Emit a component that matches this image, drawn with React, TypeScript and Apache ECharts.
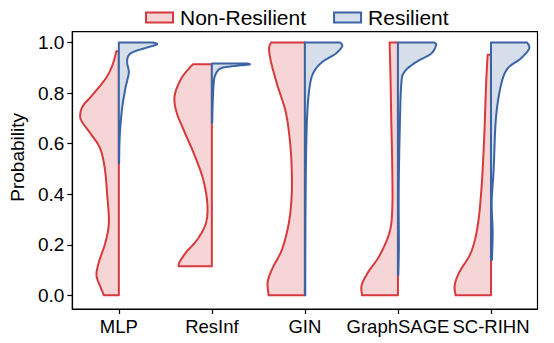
import React, { useEffect, useRef } from "react";
import * as echarts from "echarts";

const categories = ["MLP", "ResInf", "GIN", "GraphSAGE", "SC-RIHN"];
const seriesNames = ["Non-Resilient", "Resilient"];
const yTickValues = [0, 0.2, 0.4, 0.6, 0.8, 1.0];

// [probability, half-width in category units], ascending probability
const mlpNon = [[0, 0.16], [0.033, 0.197], [0.079, 0.24], [0.132, 0.214], [0.211, 0.143], [0.29, 0.107], [0.396, 0.125], [0.5, 0.15], [0.58, 0.2], [0.633, 0.29], [0.686, 0.395], [0.715, 0.415], [0.75, 0.385], [0.79, 0.29], [0.857, 0.143], [0.91, 0.07], [0.966, 0.026]];
const mlpRes = [[0.523, 0.003], [0.633, 0.01], [0.739, 0.035], [0.818, 0.07], [0.85, 0.09], [0.884, 0.107], [0.923, 0.089], [0.95, 0.107], [0.965, 0.17], [0.98, 0.3], [0.993, 0.41], [1.0, 0.37]];
const resinfNon = [[0.115, 0.357], [0.132, 0.347], [0.171, 0.275], [0.224, 0.15], [0.29, 0.061], [0.369, 0.05], [0.462, 0.096], [0.554, 0.186], [0.646, 0.293], [0.725, 0.38], [0.79, 0.4], [0.857, 0.33], [0.9, 0.24], [0.914, 0.203]];
const resinfRes = [[0.683, 0.004], [0.75, 0.008], [0.831, 0.018], [0.87, 0.035], [0.897, 0.09], [0.906, 0.21], [0.913, 0.4], [0.917, 0.38]];
const ginNon = [[0, 0.39], [0.053, 0.4], [0.106, 0.35], [0.185, 0.243], [0.29, 0.171], [0.396, 0.142], [0.5, 0.142], [0.607, 0.16], [0.725, 0.206], [0.831, 0.296], [0.923, 0.364], [0.976, 0.385], [1.0, 0.364]];
const ginRes = [[0, 0.004], [0.2, 0.005], [0.4, 0.008], [0.58, 0.014], [0.725, 0.026], [0.831, 0.053], [0.884, 0.096], [0.923, 0.186], [0.956, 0.33], [0.985, 0.4], [1.0, 0.38]];
const sageNon = [[0, 0.385], [0.04, 0.39], [0.092, 0.32], [0.158, 0.197], [0.25, 0.09], [0.343, 0.061], [0.5, 0.061], [0.7, 0.072], [0.897, 0.082], [1.0, 0.09]];
const sageRes = [[0.08, 0.004], [0.2, 0.01], [0.4, 0.008], [0.633, 0.018], [0.831, 0.035], [0.884, 0.07], [0.923, 0.196], [0.956, 0.356], [0.99, 0.41], [1.0, 0.39]];
const scrihnNon = [[0, 0.38], [0.04, 0.39], [0.092, 0.34], [0.171, 0.214], [0.277, 0.142], [0.435, 0.1], [0.633, 0.072], [0.831, 0.053], [0.952, 0.036]];
const scrihnRes = [[0.14, 0.01], [0.25, 0.018], [0.37, 0.008], [0.5, 0.029], [0.7, 0.053], [0.831, 0.107], [0.897, 0.178], [0.937, 0.32], [0.976, 0.41], [1.0, 0.39]];

const nonProfiles = [mlpNon, resinfNon, ginNon, sageNon, scrihnNon];
const resProfiles = [mlpRes, resinfRes, ginRes, sageRes, scrihnRes];

const RED = "#d63a3d";
const RED_FILL = "#f5d5d6";
const BLUE = "#3b64a5";
const BLUE_FILL = "#d6deea";
const FONT = "Liberation Sans, Arial, Helvetica, sans-serif";

function catmull(pts: number[][], steps = 8): number[][] {
  if (pts.length < 3) return pts;
  const out: number[][] = [];
  for (let i = 0; i < pts.length - 1; i++) {
    const p0 = pts[Math.max(0, i - 1)];
    const p1 = pts[i];
    const p2 = pts[i + 1];
    const p3 = pts[Math.min(pts.length - 1, i + 2)];
    for (let s = 0; s < steps; s++) {
      const t = s / steps;
      const t2 = t * t;
      const t3 = t2 * t;
      const f = (a: number, b: number, c: number, d: number) =>
        0.5 * (2 * b + (-a + c) * t + (2 * a - 5 * b + 4 * c - d) * t2 + (-a + 3 * b - 3 * c + d) * t3);
      out.push([f(p0[0], p1[0], p2[0], p3[0]), f(p0[1], p1[1], p2[1], p3[1])]);
    }
  }
  out.push(pts[pts.length - 1]);
  return out;
}

function makeRender(profiles: number[][][], side: number, stroke: string, fill: string) {
  return (params: any, api: any) => {
    const i = params.dataIndex;
    const prof = profiles[i];
    const center = api.coord([i, 0])[0];
    const band = api.size([1, 0])[0];
    const curve = prof.map(([v, w]) => {
      const y = api.coord([i, v])[1];
      return [center + side * w * band, y];
    });
    const smooth = catmull(curve, 10);
    const yTop = api.coord([i, prof[prof.length - 1][0]])[1];
    const yBot = api.coord([i, prof[0][0]])[1];
    const points = [...smooth, [center, yTop], [center, yBot]];
    return {
      type: "polygon",
      shape: { points },
      style: { fill, stroke, lineWidth: 2, lineJoin: "round" },
    };
  };
}

export default function App() {
  const ref = useRef<HTMLDivElement>(null);
  useEffect(() => {
    if (!ref.current) return;
    const chart = echarts.init(ref.current, null, { renderer: "svg" });
    chart.setOption({
      animation: false,
      textStyle: { fontFamily: FONT },
      legend: {
        data: seriesNames,
        left: 140,
        top: 2,
        icon: "rect",
        itemWidth: 27,
        itemHeight: 10,
        itemGap: 27,
        textStyle: { fontSize: 21, color: "#000", fontFamily: FONT, padding: [0, 0, 0, 2] },
      },
      grid: {
        left: 70,
        right: 16.5,
        top: 31.7,
        bottom: 34,
        show: true,
        borderColor: "#000",
        borderWidth: 1.2,
        backgroundColor: "transparent",
      },
      xAxis: {
        type: "category",
        data: categories,
        boundaryGap: true,
        axisLine: { show: true, onZero: false, lineStyle: { color: "#000", width: 1.2 } },
        axisTick: { show: true, alignWithLabel: true, interval: 0, length: 5, lineStyle: { color: "#000", width: 1.2 } },
        axisLabel: { fontSize: 18.5, color: "#000", margin: 8, interval: 0, hideOverlap: false, fontFamily: FONT },
        splitLine: { show: false },
      },
      yAxis: {
        type: "value",
        min: -0.054,
        max: 1.043,
        name: "Probability",
        nameLocation: "middle",
        nameGap: 38,
        nameRotate: 90,
        nameTextStyle: { fontSize: 19, color: "#000", fontFamily: FONT, padding: [0, 0, 0, 26] },
        axisLine: { show: true, lineStyle: { color: "#000", width: 1.2 } },
        axisTick: { show: true, length: 5, customValues: yTickValues, lineStyle: { color: "#000", width: 1.2 } },
        axisLabel: {
          fontSize: 19,
          color: "#000",
          margin: 8,
          fontFamily: FONT,
          customValues: yTickValues,
          formatter: (v: number) => v.toFixed(1),
        },
        splitLine: { show: false },
      },
      series: [
        {
          name: seriesNames[0],
          type: "custom",
          data: categories.map((_, i) => [i, 0]),
          encode: { x: 0, y: 1 },
          itemStyle: { color: RED_FILL, borderColor: RED, borderWidth: 2 },
          renderItem: makeRender(nonProfiles, -1, RED, RED_FILL),
        },
        {
          name: seriesNames[1],
          type: "custom",
          data: categories.map((_, i) => [i, 0]),
          encode: { x: 0, y: 1 },
          itemStyle: { color: BLUE_FILL, borderColor: BLUE, borderWidth: 2 },
          renderItem: makeRender(resProfiles, 1, BLUE, BLUE_FILL),
        },
      ],
    });
    return () => chart.dispose();
  }, []);
  return <div ref={ref} style={{ width: 554, height: 343, position: "absolute", left: 0, top: 0 }} />;
}
